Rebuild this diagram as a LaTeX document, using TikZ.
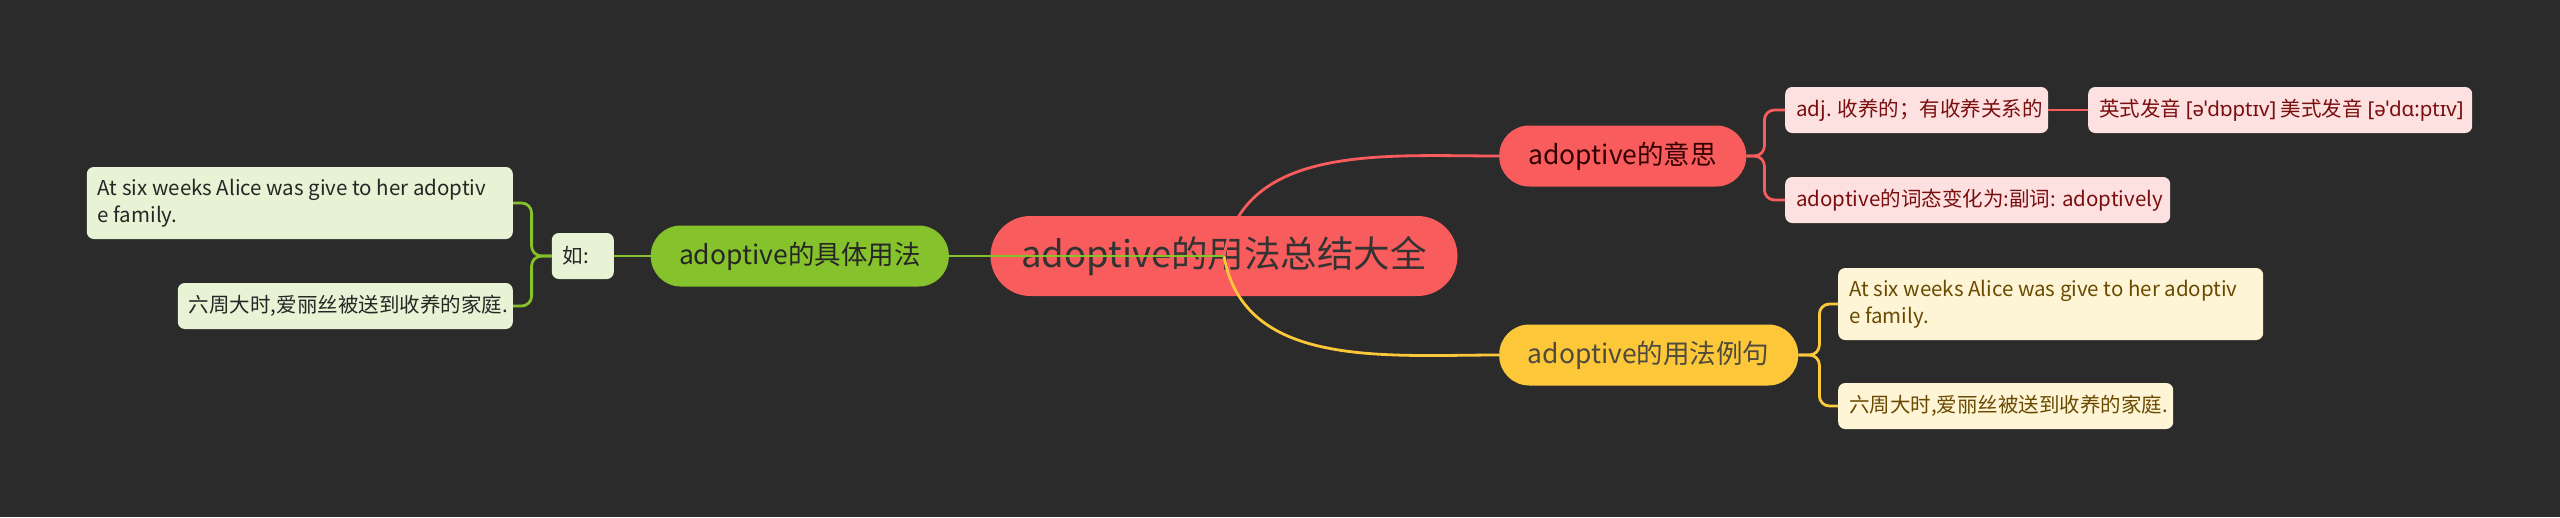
\documentclass[tikz,border=0pt]{standalone}
\usepackage{fontspec}
\setmainfont{Noto Sans CJK SC}
\newfontfamily\ipafont{Noto Sans}
\definecolor{bg}{HTML}{2B2B2B}
\definecolor{rootred}{HTML}{F95C5C}
\definecolor{redtxt}{HTML}{7A0E0E}
\definecolor{redleaf}{HTML}{FDE1E1}
\definecolor{topicgreen}{HTML}{86C22B}
\definecolor{greenleaf}{HTML}{E8F2D4}
\definecolor{topicyellow}{HTML}{FCC83A}
\definecolor{yellowleaf}{HTML}{FEF5D6}
\definecolor{yellowtxt}{HTML}{6A4A00}
\begin{document}
\begin{tikzpicture}[x=1pt, y=1pt,
    pill/.style={rounded corners=30pt, inner sep=0pt, minimum height=61pt, font=\fontsize{26.5}{32}\selectfont},
    leaf/.style={rounded corners=7pt, inner xsep=11pt, inner ysep=0pt, minimum height=46pt, text width=#1, align=flush left, font=\fontsize{20.5}{27.5}\selectfont},
    redleafbox/.style={leaf=#1, fill=redleaf, text=redtxt},
    greenleafbox/.style={leaf=#1, fill=greenleaf, text=black!85},
    yellowleafbox/.style={leaf=#1, fill=yellowleaf, text=yellowtxt},
    conn/.style={line width=2.8pt, rounded corners=10pt}]
    \fill[bg] (0,0) rectangle (2560,-517);
    \useasboundingbox (0,0) rectangle (2560,-517);

    \node[fill=rootred, text=black!80, rounded corners=40pt, inner sep=0pt, minimum width=467pt, minimum height=80pt,
        font=\fontsize{36.5}{44}\selectfont] (root) at (1224,-256) {adoptive的用法总结大全};

    % adoptive的意思
    \node[pill, fill=rootred, text=black!80!red, minimum width=247pt, anchor=west] (meaning) at (1499,-156) {adoptive的意思};
    \node[redleafbox=241pt, anchor=west] (adj) at (1785,-110) {\mbox{adj. 收养的；有收养关系的}};
    \node[redleafbox=362pt, anchor=west] (pron) at (2088,-110) {\mbox{英式发音 {\ipafont [əˈdɒptɪv]} 美式发音 {\ipafont [əˈdɑ:ptɪv]}}};
    \node[redleafbox=363pt, anchor=west] (forms) at (1785,-200) {\mbox{adoptive的词态变化为:副词: adoptively}};

    % adoptive的用法例句
    \node[pill, fill=topicyellow, text=black!80!yellow, minimum width=299pt, anchor=west] (example) at (1499,-355) {adoptive的用法例句};
    \node[yellowleafbox=403pt, minimum height=72pt, anchor=west] (exen) at (1838,-304) {\mbox{At six weeks Alice was give to her adoptiv}\\\mbox{e family.}};
    \node[yellowleafbox=313pt, anchor=west] (excn) at (1838,-406) {\mbox{六周大时,爱丽丝被送到收养的家庭.}};

    % adoptive的具体用法
    \node[pill, fill=topicgreen, text=black!85, minimum width=298pt, anchor=east] (usage) at (949,-256) {adoptive的具体用法};
    \node[greenleafbox=40pt, anchor=east] (ru) at (614,-256) {\mbox{如:}};
    \node[greenleafbox=404pt, minimum height=72pt, anchor=east] (useen) at (513,-203) {\mbox{At six weeks Alice was give to her adoptiv}\\\mbox{e family.}};
    \node[greenleafbox=313pt, anchor=east] (usecn) at (513,-306) {\mbox{六周大时,爱丽丝被送到收养的家庭.}};

    \draw[conn, rootred] (root.center) to[out=80, in=180] (meaning.west);
    \draw[conn, rootred] (meaning.east) -- ++(18,0) |- (adj.west);
    \draw[conn, rootred] (meaning.east) -- ++(18,0) |- (forms.west);
    \draw[conn, rootred] (adj.east) -- (pron.west);
    \draw[conn, topicyellow] (root.center) to[out=-80, in=180] (example.west);
    \draw[conn, topicyellow] (example.east) -- ++(21,0) |- (exen.west);
    \draw[conn, topicyellow] (example.east) -- ++(21,0) |- (excn.west);
    \draw[conn, topicgreen] (root.center) -- (usage.east);
    \draw[conn, topicgreen] (usage.west) -- (ru.east);
    \draw[conn, topicgreen] (ru.west) -- ++(-20,0) |- (useen.east);
    \draw[conn, topicgreen] (ru.west) -- ++(-20,0) |- (usecn.east);
\end{tikzpicture}
\end{document}
